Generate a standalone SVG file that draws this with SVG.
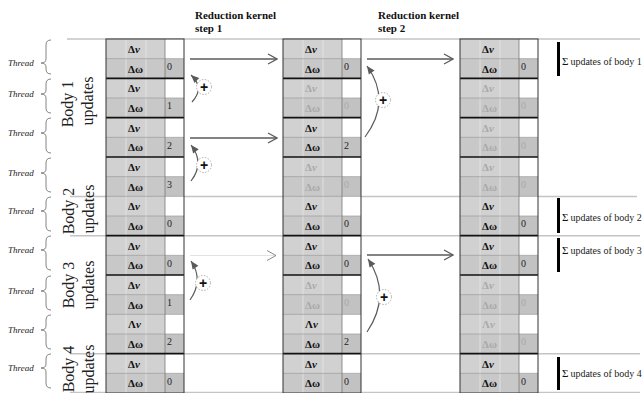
<svg xmlns="http://www.w3.org/2000/svg" width="644" height="393" viewBox="0 0 644 393">
<style>
.hd{font-family:"Liberation Serif",serif;font-weight:bold;font-size:11px;fill:#111}
.th{font-family:"Liberation Serif",serif;font-style:italic;font-size:9px;fill:#222}
.br{fill:none;stroke:#666;stroke-width:0.8}
.bd{font-family:"Liberation Serif",serif;font-size:16px;fill:#222;text-anchor:middle}
.d{font-family:"Liberation Serif",serif;font-weight:bold;font-size:11px;fill:#111}
.n{font-family:"Liberation Serif",serif;font-size:10px;fill:#222}
.f{fill:#a9a9a9}
.sg{font-family:"Liberation Serif",serif;font-size:11px;fill:#111}
.su{font-family:"Liberation Serif",serif;font-size:10px;fill:#222}
.gl{stroke:#c4c4c4;stroke-width:1.5}
.ar{fill:none;stroke:#5a5a5a;stroke-width:1.3}
.cv{fill:none;stroke:#5a5a5a;stroke-width:1.2}
.op{fill:#fff;stroke:#9a9a9a;stroke-width:0.8;stroke-dasharray:1.5 1.5}
.pl{font-family:"Liberation Sans",sans-serif;font-weight:bold;font-size:14px;fill:#111;text-anchor:middle}
</style>
<defs>
<marker id="open" viewBox="-10 -6 11 12" refX="0" refY="0" markerWidth="11" markerHeight="12" markerUnits="userSpaceOnUse" orient="auto">
<path d="M-9,-5 L0,0 L-9,5" fill="none" stroke="#5a5a5a" stroke-width="1.2"/>
</marker>
<marker id="openf" viewBox="-10 -6 11 12" refX="0" refY="0" markerWidth="11" markerHeight="12" markerUnits="userSpaceOnUse" orient="auto">
<path d="M-9,-5 L0,0 L-9,5" fill="none" stroke="#8a8a8a" stroke-width="1"/>
</marker>
<marker id="tri" viewBox="-9 -5 10 10" refX="0" refY="0" markerWidth="10" markerHeight="10" markerUnits="userSpaceOnUse" orient="auto">
<path d="M-8,-3.5 L0,0 L-8,3.5 z" fill="#5a5a5a"/>
</marker>
<g id="colbg">
<rect x="0" y="39" width="78" height="354" fill="#d1d1d1"/>
<g fill="#c8c8c8">
<rect x="0" y="58.67" width="59" height="19.67"/><rect x="0" y="98" width="59" height="19.67"/><rect x="0" y="137.33" width="59" height="19.67"/><rect x="0" y="176.67" width="59" height="19.67"/><rect x="0" y="216" width="59" height="19.67"/><rect x="0" y="255.33" width="59" height="19.67"/><rect x="0" y="294.67" width="59" height="19.67"/><rect x="0" y="334" width="59" height="19.67"/><rect x="0" y="373.33" width="59" height="19.67"/>
</g>
<g fill="#c2c2c2">
<rect x="59" y="58.67" width="19" height="19.67"/><rect x="59" y="98" width="19" height="19.67"/><rect x="59" y="137.33" width="19" height="19.67"/><rect x="59" y="176.67" width="19" height="19.67"/><rect x="59" y="216" width="19" height="19.67"/><rect x="59" y="255.33" width="19" height="19.67"/><rect x="59" y="294.67" width="19" height="19.67"/><rect x="59" y="334" width="19" height="19.67"/><rect x="59" y="373.33" width="19" height="19.67"/>
</g>
<g fill="#fff">
<rect x="59" y="39" width="19" height="19.67"/><rect x="59" y="78.33" width="19" height="19.67"/><rect x="59" y="117.67" width="19" height="19.67"/><rect x="59" y="157" width="19" height="19.67"/><rect x="59" y="196.33" width="19" height="19.67"/><rect x="59" y="235.67" width="19" height="19.67"/><rect x="59" y="275" width="19" height="19.67"/><rect x="59" y="314.33" width="19" height="19.67"/><rect x="59" y="353.67" width="19" height="19.67"/>
</g>
<g stroke="#e6e6e6" stroke-width="0.8">
<line x1="20" y1="39" x2="20" y2="393"/><line x1="40" y1="39" x2="40" y2="393"/>
</g>
<g stroke="#9c9c9c" stroke-width="0.7">
<line x1="0" y1="58.67" x2="78" y2="58.67"/><line x1="0" y1="98" x2="78" y2="98"/><line x1="0" y1="137.33" x2="78" y2="137.33"/><line x1="0" y1="176.67" x2="78" y2="176.67"/><line x1="0" y1="196.33" x2="78" y2="196.33"/><line x1="0" y1="216" x2="78" y2="216"/><line x1="0" y1="255.33" x2="78" y2="255.33"/><line x1="0" y1="294.67" x2="78" y2="294.67"/><line x1="0" y1="314.33" x2="78" y2="314.33"/><line x1="0" y1="334" x2="78" y2="334"/><line x1="0" y1="373.33" x2="78" y2="373.33"/>
</g>
<line x1="59" y1="39" x2="59" y2="393" stroke="#7a7a7a" stroke-width="0.8"/>
<g stroke="#111" stroke-width="1.6">
<line x1="0" y1="78.33" x2="78" y2="78.33"/><line x1="0" y1="117.67" x2="78" y2="117.67"/><line x1="0" y1="157" x2="78" y2="157"/><line x1="0" y1="235.67" x2="78" y2="235.67"/><line x1="0" y1="275" x2="78" y2="275"/><line x1="0" y1="353.67" x2="78" y2="353.67"/>
</g>
<rect x="0" y="39" width="78" height="354" fill="none" stroke="#333" stroke-width="1"/>
</g>
</defs>

<rect width="644" height="393" fill="#fff"/>

<g id="guides">
<line class="gl" x1="67" y1="39" x2="640" y2="39"/>
<line class="gl" x1="70" y1="196.5" x2="637" y2="196.5"/>
<line class="gl" x1="70" y1="235.7" x2="640" y2="235.7"/>
<line class="gl" x1="70" y1="353.7" x2="640" y2="353.7"/>
<line class="gl" x1="70" y1="392.5" x2="640" y2="392.5"/>
</g>

<g id="headers">
<text class="hd" x="195" y="19">Reduction kernel</text>
<text class="hd" x="195" y="32">step 1</text>
<text class="hd" x="378" y="19">Reduction kernel</text>
<text class="hd" x="378" y="32">step 2</text>
</g>

<g id="threads">
<text class="th" x="8" y="66">Thread</text>
<text class="th" x="8" y="97">Thread</text>
<text class="th" x="8" y="136">Thread</text>
<text class="th" x="8" y="176">Thread</text>
<text class="th" x="8" y="214">Thread</text>
<text class="th" x="8" y="253">Thread</text>
<text class="th" x="8" y="294">Thread</text>
<text class="th" x="8" y="333">Thread</text>
<text class="th" x="8" y="371">Thread</text>
<path class="br" d="M51,40 Q46,40 46,45 L46,59 Q46,63 41,63 Q46,63 46,67 L46,69 Q46,74 51,74"/>
<path class="br" d="M51,79 Q46,79 46,84 L46,90 Q46,94 41,94 Q46,94 46,98 L46,108 Q46,113 51,113"/>
<path class="br" d="M51,118 Q46,118 46,123 L46,129 Q46,133 41,133 Q46,133 46,137 L46,148 Q46,153 51,153"/>
<path class="br" d="M51,158 Q46,158 46,163 L46,169 Q46,173 41,173 Q46,173 46,177 L46,187 Q46,192 51,192"/>
<path class="br" d="M51,197 Q46,197 46,202 L46,207 Q46,211 41,211 Q46,211 46,215 L46,226 Q46,231 51,231"/>
<path class="br" d="M51,236 Q46,236 46,241 L46,246 Q46,250 41,250 Q46,250 46,254 L46,265 Q46,270 51,270"/>
<path class="br" d="M51,276 Q46,276 46,281 L46,287 Q46,291 41,291 Q46,291 46,295 L46,305 Q46,310 51,310"/>
<path class="br" d="M51,315 Q46,315 46,320 L46,326 Q46,330 41,330 Q46,330 46,334 L46,344 Q46,349 51,349"/>
<path class="br" d="M51,354 Q46,354 46,359 L46,364 Q46,368 41,368 Q46,368 46,372 L46,383 Q46,388 51,388"/>
</g>

<g id="bodies">
<text class="bd" transform="translate(73,104) rotate(-90)">Body 1</text>
<text class="bd" transform="translate(93,101) rotate(-90)">updates</text>
<text class="bd" transform="translate(74,211) rotate(-90)">Body 2</text>
<text class="bd" transform="translate(94,209) rotate(-90)">updates</text>
<text class="bd" transform="translate(74,285) rotate(-90)">Body 3</text>
<text class="bd" transform="translate(94,285) rotate(-90)">updates</text>
<text class="bd" transform="translate(74,369) rotate(-90)">Body 4</text>
<text class="bd" transform="translate(94,369) rotate(-90)">updates</text>
</g>

<g id="col1">
<use href="#colbg" x="106"/>
<g class="d">
<text x="128" y="53">Δ<tspan font-style="italic">v</tspan></text><text x="128" y="72.5">Δω</text>
<text x="128" y="92.3">Δ<tspan font-style="italic">v</tspan></text><text x="128" y="111.8">Δω</text>
<text x="128" y="131.7">Δ<tspan font-style="italic">v</tspan></text><text x="128" y="151.2">Δω</text>
<text x="128" y="171">Δ<tspan font-style="italic">v</tspan></text><text x="128" y="190.5">Δω</text>
<text x="128" y="210.3">Δ<tspan font-style="italic">v</tspan></text><text x="128" y="229.8">Δω</text>
<text x="128" y="249.7">Δ<tspan font-style="italic">v</tspan></text><text x="128" y="269.2">Δω</text>
<text x="128" y="289">Δ<tspan font-style="italic">v</tspan></text><text x="128" y="308.5">Δω</text>
<text x="128" y="328.3">Λ<tspan font-style="italic">v</tspan></text><text x="128" y="347.8">Δω</text>
<text x="128" y="367.7">Δ<tspan font-style="italic">v</tspan></text><text x="128" y="387.2">Δω</text>
</g>
<g class="n">
<text x="167" y="70">0</text><text x="167" y="109.3">1</text><text x="167" y="148.7">2</text><text x="167" y="188">3</text><text x="167" y="227.3">0</text><text x="167" y="266.7">0</text><text x="167" y="306">1</text><text x="167" y="345.3">2</text><text x="167" y="384.7">0</text>
</g>
</g>

<g id="col2">
<use href="#colbg" x="283"/>
<g class="d">
<text x="305" y="53">Δ<tspan font-style="italic">v</tspan></text><text x="305" y="72.5">Δω</text>
<text class="f" x="305" y="92.3">Δ<tspan font-style="italic">v</tspan></text><text class="f" x="305" y="111.8">Δω</text>
<text x="305" y="131.7">Δ<tspan font-style="italic">v</tspan></text><text x="305" y="151.2">Δω</text>
<text class="f" x="305" y="171">Δ<tspan font-style="italic">v</tspan></text><text class="f" x="305" y="190.5">Δω</text>
<text x="305" y="210.3">Δ<tspan font-style="italic">v</tspan></text><text x="305" y="229.8">Δω</text>
<text x="305" y="249.7">Δ<tspan font-style="italic">v</tspan></text><text x="305" y="269.2">Δω</text>
<text class="f" x="305" y="289">Δ<tspan font-style="italic">v</tspan></text><text class="f" x="305" y="308.5">Δω</text>
<text x="305" y="328.3">Λ<tspan font-style="italic">v</tspan></text><text x="305" y="347.8">Δω</text>
<text x="305" y="367.7">Δ<tspan font-style="italic">v</tspan></text><text x="305" y="387.2">Δω</text>
</g>
<g class="n">
<text x="344" y="70">0</text><text class="f" x="344" y="109.3">0</text><text x="344" y="148.7">2</text><text class="f" x="344" y="188">0</text><text x="344" y="227.3">0</text><text x="344" y="266.7">0</text><text class="f" x="344" y="306">0</text><text x="344" y="345.3">2</text><text x="344" y="384.7">0</text>
</g>
</g>

<g id="col3">
<use href="#colbg" x="460"/>
<g class="d">
<text x="482" y="53">Δ<tspan font-style="italic">v</tspan></text><text x="482" y="72.5">Δω</text>
<text class="f" x="482" y="92.3">Δ<tspan font-style="italic">v</tspan></text><text class="f" x="482" y="111.8">Δω</text>
<text class="f" x="482" y="131.7">Δ<tspan font-style="italic">v</tspan></text><text class="f" x="482" y="151.2">Δω</text>
<text class="f" x="482" y="171">Δ<tspan font-style="italic">v</tspan></text><text class="f" x="482" y="190.5">Δω</text>
<text x="482" y="210.3">Δ<tspan font-style="italic">v</tspan></text><text x="482" y="229.8">Δω</text>
<text x="482" y="249.7">Δ<tspan font-style="italic">v</tspan></text><text x="482" y="269.2">Δω</text>
<text class="f" x="482" y="289">Δ<tspan font-style="italic">v</tspan></text><text class="f" x="482" y="308.5">Δω</text>
<text class="f" x="482" y="328.3">Λ<tspan font-style="italic">v</tspan></text><text class="f" x="482" y="347.8">Δω</text>
<text x="482" y="367.7">Δ<tspan font-style="italic">v</tspan></text><text x="482" y="387.2">Δω</text>
</g>
<g class="n">
<text x="521" y="70">0</text><text class="f" x="521" y="109.3">0</text><text class="f" x="521" y="148.7">0</text><text class="f" x="521" y="188">0</text><text x="521" y="227.3">0</text><text x="521" y="266.7">0</text><text class="f" x="521" y="306">0</text><text class="f" x="521" y="345.3">0</text><text x="521" y="384.7">0</text>
</g>
</g>

<g id="sums">
<rect x="557" y="42" width="3" height="34" fill="#000"/>
<text x="562" y="65"><tspan class="sg">Σ</tspan><tspan class="su" dx="2">updates of body 1</tspan></text>
<rect x="557" y="198" width="3" height="35" fill="#000"/>
<text x="562" y="221"><tspan class="sg">Σ</tspan><tspan class="su" dx="2">updates of body 2</tspan></text>
<rect x="557" y="238" width="3" height="34" fill="#000"/>
<text x="562" y="254"><tspan class="sg">Σ</tspan><tspan class="su" dx="2">updates of body 3</tspan></text>
<rect x="557" y="357" width="3" height="33" fill="#000"/>
<text x="562" y="377"><tspan class="sg">Σ</tspan><tspan class="su" dx="2">updates of body 4</tspan></text>
</g>

<g id="connectors">
<line class="ar" x1="190" y1="59" x2="277" y2="59" marker-end="url(#open)"/>
<line class="ar" x1="190" y1="138" x2="277" y2="138" marker-end="url(#open)"/>
<line x1="190" y1="255.5" x2="276" y2="255.5" stroke="#e2e2e2" stroke-width="1" marker-end="url(#openf)"/>
<line class="ar" x1="367" y1="59" x2="453" y2="59" marker-end="url(#open)"/>
<line class="ar" x1="367" y1="255" x2="453" y2="255" marker-end="url(#open)"/>
<path class="cv" d="M192,102 Q205,88 191,75" marker-end="url(#tri)"/>
<path class="cv" d="M191,181 Q205,163 191,145" marker-end="url(#tri)"/>
<path class="cv" d="M190,300 Q204,280 191,261" marker-end="url(#tri)"/>
<path class="cv" d="M365,137 Q392,101 367,66" marker-end="url(#tri)"/>
<path class="cv" d="M367,332 Q392,295 368,259" marker-end="url(#tri)"/>
</g>

<g id="ops">
<circle class="op" cx="204" cy="87" r="7.5"/><text class="pl" x="204" y="92">+</text>
<circle class="op" cx="204" cy="165" r="7.5"/><text class="pl" x="204" y="170">+</text>
<circle class="op" cx="203" cy="283" r="7.5"/><text class="pl" x="203" y="288">+</text>
<circle class="op" cx="383" cy="100" r="7.5"/><text class="pl" x="383" y="105">+</text>
<circle class="op" cx="384" cy="297" r="7.5"/><text class="pl" x="384" y="302">+</text>
</g>
</svg>
